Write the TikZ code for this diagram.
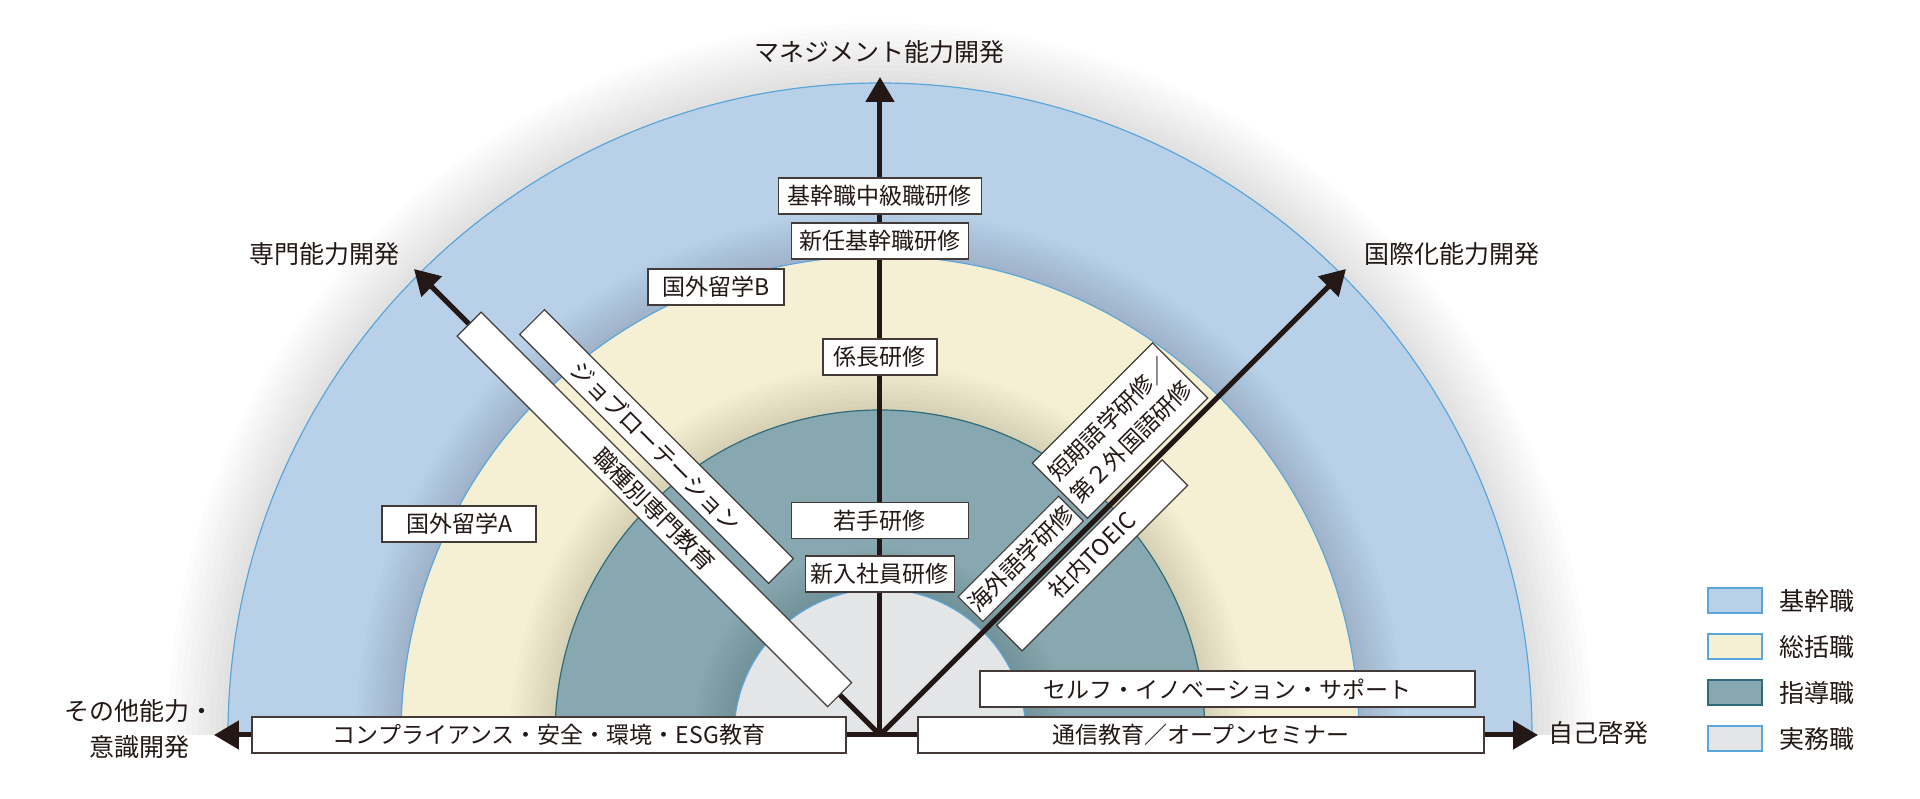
\documentclass[tikz,border=0pt]{standalone}
\usepackage{fontspec}
\setmainfont{Noto Sans CJK JP}
\usepackage{tikz}
\usetikzlibrary{arrows.meta,calc}

\definecolor{kikan}{HTML}{B9D1E8}
\definecolor{soukatsu}{HTML}{F5F0D4}
\definecolor{shidou}{HTML}{87A7B1}
\definecolor{jitsumu}{HTML}{E4E5E7}
\definecolor{rimblue}{HTML}{5AA5DA}
\definecolor{rimteal}{HTML}{2F6B78}
\definecolor{ink}{HTML}{231815}

\tikzset{
  kbox/.style={draw=ink!85, line width=1.2pt, fill=white, text=ink, inner sep=0pt,
    minimum height=36pt, font=\fontsize{23}{31}\selectfont},
  devarrow/.style={draw=ink, line width=5pt, -{Triangle[length=25pt,width=28pt]}},
  axlabel/.style={text=ink, font=\fontsize{25}{36}\selectfont},
  legbox/.style={line width=2pt, minimum width=54pt, minimum height=25pt, inner sep=0pt},
}

\begin{document}
\begin{tikzpicture}[x=1pt,y=1pt]
\useasboundingbox (-880,-63) rectangle (1040,735);

% rings, outer to inner, each with a soft shadow
\begin{scope}
  \clip (-900,0) rectangle (1100,760);
  \foreach \r/\fc/\dc/\sp in {652/kikan/rimblue/6, 479/soukatsu/rimblue/4.5, 325/shidou/rimteal/4.5, 146/jitsumu/rimblue/4} {
    \foreach \k in {1,...,10}
      \fill[black, opacity=.012] (0,0) circle ({\r+\sp*\k});
    \filldraw[fill=\fc, draw=\dc, line width=1.2pt] (0,0) circle (\r);
  }
\end{scope}

% axes
\coordinate (o) at (0,0);
\coordinate (tipN) at (90:658);
\coordinate (tipNW) at (135:659);
\coordinate (tipNE) at (45:659);
\coordinate (tipW) at (-666,0);
\coordinate (tipE) at (658,0);
\foreach \t in {N,NW,NE,W,E}
  \draw[devarrow] (o) -- (tip\t);

\node[axlabel] (lblN) at (0,683) {マネジメント能力開発};
\node[axlabel] (lblNW) at (-555,481) {専門能力開発};
\node[axlabel] (lblNE) at (572,481) {国際化能力開発};
\node[axlabel, align=center] (lblW) at (-740,6) {その他能力・\\意識開発};
\node[axlabel] (lblE) at (718,2) {自己啓発};

% programmes
\node[kbox, minimum width=203pt] (kchu) at (0,539) {基幹職中級職研修};
\node[kbox, minimum width=177pt] (shinnin) at (0,494) {新任基幹職研修};
\node[kbox, minimum width=114pt] (kakari) at (0,378) {係長研修};
\node[kbox, minimum width=177pt] (wakate) at (0,214.5) {若手研修};
\node[kbox, minimum width=149pt] (shinnyu) at (0,161) {新入社員研修};
\node[kbox, minimum width=136pt] (ryuB) at (-164,448) {国外留学B};
\node[kbox, minimum width=154pt] (ryuA) at (-421,211) {国外留学A};
\node[kbox, minimum width=594pt] (comp) at (-331,0) {コンプライアンス・安全・環境・ESG教育};
\node[kbox, minimum width=566pt] (tsushin) at (321,0) {通信教育／オープンセミナー};
\node[kbox, minimum width=495pt] (self) at (347.5,46) {セルフ・イノベーション・サポート};

\node[kbox, rotate=-45, minimum width=524pt, minimum height=34pt] (senmon) at (135:319) {職種別専門教育};
\node[kbox, rotate=-45, minimum width=352pt, minimum height=35pt] (jobrot) at ($(135:362)+(45:46)$) {ジョブローテーション};
\node[kbox, rotate=45, minimum width=170pt, minimum height=78pt, align=center] (tanki) at ($(45:385)+(135:45.5)$) {短期語学研修／\\第２外国語研修};
\node[kbox, rotate=45, minimum width=142pt, minimum height=35pt] (kaigai) at ($(45:224)+(135:25)$) {海外語学研修};
\node[kbox, rotate=45, minimum width=234pt, minimum height=36pt] (toeic) at ($(45:277)+(-45:23)$) {社内TOEIC};

% legend
\foreach \fc/\dc/\name [count=\i] in {kikan/rimblue/基幹職, soukatsu/rimblue/総括職, shidou/rimteal/指導職, jitsumu/rimblue/実務職} {
  \node[legbox, fill=\fc, draw=\dc] (leg\i) at (855,{180-46*\i}) {};
  \node[axlabel, anchor=west] (legtxt\i) at ([xshift=13pt]leg\i.east) {\name};
}
\end{tikzpicture}
\end{document}
